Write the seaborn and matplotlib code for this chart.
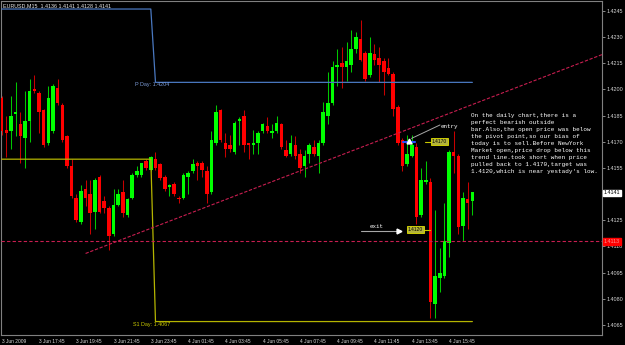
import numpy as np
import pandas as pd
import matplotlib
matplotlib.use("Agg")
import matplotlib.pyplot as plt
import seaborn as sns

# ---------------- data ----------------
opens = [1.4195, 1.4177, 1.4176, 1.4186, 1.4180, 1.4172, 1.4182, 1.4200, 1.4198, 1.4188,
         1.4169, 1.4176, 1.4201, 1.4191, 1.4173, 1.4156, 1.4138, 1.4124, 1.4143, 1.4140,
         1.4130, 1.4150, 1.4136, 1.4132, 1.4117, 1.4134, 1.4141, 1.4128, 1.4138, 1.4151,
         1.4151, 1.4159, 1.4154, 1.4160, 1.4157, 1.4150, 1.4144, 1.4146, 1.4138, 1.4138,
         1.4150, 1.4153, 1.4158, 1.4158, 1.4153, 1.4141, 1.4169, 1.4188, 1.4169, 1.4168,
         1.4164, 1.4182, 1.4185, 1.4169, 1.4168, 1.4169, 1.4176, 1.4179, 1.4175, 1.4176,
         1.4180, 1.4165, 1.4163, 1.4168, 1.4163, 1.4156, 1.4163, 1.4167, 1.4162, 1.4169,
         1.4185, 1.4192, 1.4213, 1.4215, 1.4213, 1.4214, 1.4223, 1.4229, 1.4221, 1.4208,
         1.4220, 1.4218, 1.4216, 1.4212, 1.4209, 1.4190, 1.4171, 1.4157, 1.4162, 1.4167,
         1.4128, 1.4147, 1.4147, 1.4077, 1.4092, 1.4093, 1.4112, 1.4164, 1.4162, 1.4122,
         1.4137, 1.4136]
highs = [1.4196, 1.4185, 1.4196, 1.4204, 1.4187, 1.4199, 1.4206, 1.4208, 1.4199, 1.4189,
         1.4202, 1.4203, 1.4206, 1.4192, 1.4174, 1.4160, 1.4140, 1.4145, 1.4148, 1.4148,
         1.4149, 1.4151, 1.4139, 1.4133, 1.4143, 1.4143, 1.4148, 1.4138, 1.4152, 1.4156,
         1.4158, 1.4160, 1.4162, 1.4164, 1.4158, 1.4151, 1.4146, 1.4147, 1.4139, 1.4152,
         1.4153, 1.4160, 1.4159, 1.4159, 1.4156, 1.4176, 1.4191, 1.4189, 1.4175, 1.4174,
         1.4182, 1.4184, 1.4188, 1.4169, 1.4177, 1.4176, 1.4181, 1.4184, 1.4180, 1.4185,
         1.4181, 1.4171, 1.4174, 1.4173, 1.4166, 1.4165, 1.4169, 1.4171, 1.4171, 1.4193,
         1.4210, 1.4216, 1.4223, 1.4224, 1.4227, 1.4234, 1.4233, 1.4240, 1.4222, 1.4230,
         1.4226, 1.4224, 1.4218, 1.4218, 1.4210, 1.4191, 1.4172, 1.4174, 1.4174, 1.4169,
         1.4155, 1.4159, 1.4149, 1.4131, 1.4109, 1.4135, 1.4165, 1.4176, 1.4163, 1.4141,
         1.4147, 1.4141]
lows = [1.4174, 1.4161, 1.4166, 1.4173, 1.4158, 1.4155, 1.4170, 1.4198, 1.4175, 1.4167,
        1.4168, 1.4175, 1.4191, 1.4170, 1.4155, 1.4138, 1.4124, 1.4123, 1.4133, 1.4117,
        1.4120, 1.4129, 1.4129, 1.4108, 1.4116, 1.4133, 1.4127, 1.4127, 1.4137, 1.4150,
        1.4150, 1.4154, 1.4153, 1.4154, 1.4148, 1.4142, 1.4139, 1.4139, 1.4135, 1.4137,
        1.4140, 1.4152, 1.4148, 1.4150, 1.4135, 1.4140, 1.4168, 1.4170, 1.4161, 1.4164,
        1.4163, 1.4168, 1.4164, 1.4160, 1.4163, 1.4163, 1.4175, 1.4175, 1.4172, 1.4175,
        1.4166, 1.4161, 1.4162, 1.4160, 1.4152, 1.4150, 1.4158, 1.4162, 1.4152, 1.4168,
        1.4180, 1.4191, 1.4202, 1.4201, 1.4205, 1.4210, 1.4221, 1.4216, 1.4205, 1.4207,
        1.4214, 1.4204, 1.4197, 1.4208, 1.4185, 1.4168, 1.4153, 1.4156, 1.4161, 1.4123,
        1.4127, 1.4146, 1.4069, 1.4069, 1.4084, 1.4092, 1.4104, 1.4152, 1.4117, 1.4113,
        1.4120, 1.4128]
closes = [1.4176, 1.4175, 1.4185, 1.4187, 1.4173, 1.4182, 1.4199, 1.4199, 1.4187, 1.4168,
          1.4195, 1.4202, 1.4192, 1.4171, 1.4156, 1.4139, 1.4125, 1.4142, 1.4138, 1.4129,
          1.4148, 1.4130, 1.4132, 1.4116, 1.4134, 1.4140, 1.4129, 1.4137, 1.4151, 1.4153,
          1.4158, 1.4155, 1.4161, 1.4155, 1.4149, 1.4143, 1.4145, 1.4140, 1.4137, 1.4151,
          1.4152, 1.4157, 1.4156, 1.4154, 1.4140, 1.4171, 1.4187, 1.4171, 1.4166, 1.4166,
          1.4181, 1.4183, 1.4168, 1.4168, 1.4169, 1.4175, 1.4180, 1.4176, 1.4176, 1.4181,
          1.4167, 1.4162, 1.4169, 1.4162, 1.4155, 1.4162, 1.4168, 1.4163, 1.4169, 1.4187,
          1.4192, 1.4213, 1.4214, 1.4213, 1.4216, 1.4223, 1.4230, 1.4217, 1.4206, 1.4221,
          1.4217, 1.4214, 1.4210, 1.4209, 1.4189, 1.4169, 1.4156, 1.4163, 1.4168, 1.4127,
          1.4148, 1.4148, 1.4078, 1.4093, 1.4095, 1.4113, 1.4164, 1.4162, 1.4121, 1.4138,
          1.4135, 1.4141]

time_tick_bars = [0, 8, 16, 24, 32, 40, 48, 56, 64, 72, 80, 88, 96]
time_tick_labels = ["3 Jun 2009", "3 Jun 17:45", "3 Jun 19:45", "3 Jun 21:45", "3 Jun 23:45",
                    "4 Jun 01:45", "4 Jun 03:45", "4 Jun 05:45", "4 Jun 07:45", "4 Jun 09:45",
                    "4 Jun 11:45", "4 Jun 13:45", "4 Jun 15:45"]
price_ticks = [1.4245, 1.4230, 1.4215, 1.4200, 1.4185, 1.4170, 1.4155,
               1.4125, 1.4110, 1.4095, 1.4080, 1.4065]

pivot_levels = [1.4246, 1.4204]      # previous day, current day
s1_levels = [1.4160, 1.4067]
day_start_bar = 33
trend_bars = [18, 90]
trend_prices = [1.4106, 1.4180]
target_price = 1.4113
bid_price = 1.4141
entry_price = 1.4170
exit_price = 1.4120
title = "EURUSD,M15  1.4136 1.4141 1.4128 1.4141"
note_lines = ["On the daily chart,there is a",
              "perfect bearish outside",
              "bar.Also,the open price was below",
              "the pivot point,so our bias of",
              "today is to sell.Before NewYork",
              "Market open,price drop below this",
              "trend line.took short when price",
              "pulled back to 1.4170,target was",
              "1.4120,which is near yestady's low."]

# ---------------- style ----------------
sns.set_theme(style="dark", rc={"axes.facecolor": "black", "figure.facecolor": "black",
                                "axes.edgecolor": "#808080", "axes.grid": False})
plt.rcParams['font.family'] = ['Liberation Sans', 'DejaVu Sans']

W, H = 625, 345
fig = plt.figure(figsize=(W / 100, H / 100), dpi=100)
ax = fig.add_axes([1 / W, (H - 335) / H, 601 / W, 334 / H])
ax.set_facecolor("black")
XMIN, XMAX = -0.15, 128.82
ax.set_xlim(XMIN, XMAX)
ax.set_ylim(1.40593, 1.42506)

def fx(px):
    return px / W

def fy(py):
    return 1 - py / H

def bar_of(px):
    return XMIN + (px - 1) / 601 * (XMAX - XMIN)

df = pd.DataFrame({"bar": np.arange(len(opens)), "open": opens, "high": highs,
                   "low": lows, "close": closes})
up = df["close"] >= df["open"]
colors = np.where(up, "#00FF00", "#FF0000")
wick_colors = np.where(up, "#00C800", "#C80000")

ax.vlines(df["bar"], df["low"], df["high"], colors=wick_colors, linewidth=0.75, zorder=2)
body_lo = np.minimum(df["open"], df["close"])
body_h = np.maximum((df["close"] - df["open"]).abs(), 0.00007)
ax.bar(df["bar"], body_h, bottom=body_lo, width=0.76, color=colors, linewidth=0, zorder=3)

# pivot / S1 step lines
n = len(opens)
bars = np.arange(n)
piv = np.where(bars < day_start_bar, pivot_levels[0], pivot_levels[1])
s1 = np.where(bars < day_start_bar, s1_levels[0], s1_levels[1])
sns.lineplot(x=bars, y=piv, ax=ax, color="#4A78C0", linewidth=0.9, zorder=4, legend=False)
sns.lineplot(x=bars, y=s1, ax=ax, color="#B4B400", linewidth=0.9, zorder=4, legend=False)

# trend line ray
slope = (trend_prices[1] - trend_prices[0]) / (trend_bars[1] - trend_bars[0])
tx = [trend_bars[0], XMAX]
ty = [trend_prices[0], trend_prices[0] + slope * (XMAX - trend_bars[0])]
sns.lineplot(x=tx, y=ty, ax=ax, color="#C81E50", linewidth=0.8, zorder=4, legend=False,
             linestyle=(0, (3, 1.5)))
ax.axhline(target_price, color="#C81E50", linewidth=0.8, linestyle=(0, (3, 2)), zorder=4)

# axes / ticks
for s in ax.spines.values():
    s.set_color("#808080")
    s.set_linewidth(0.8)
ax.yaxis.tick_right()
ax.set_yticks(price_ticks)
ax.set_yticklabels([f"{p:.4f}" for p in price_ticks])
ax.tick_params(axis="y", direction="out", length=2, width=0.6, color="#A0A0A0",
               labelsize=3.9, labelcolor="#D8D8D8", pad=1.5)
ax.set_xticks(time_tick_bars)
ax.set_xticklabels(time_tick_labels, ha="left")
ax.tick_params(axis="x", direction="out", length=2, width=0.6, color="#A0A0A0",
               labelsize=3.5, labelcolor="#D8D8D8", pad=1.0)
ax.set_xlabel("")
ax.set_ylabel("")

# title
fig.text(fx(3), fy(5.7), title, ha="left", va="center", fontsize=3.9, color="#E8E8E8")

# level labels
ax.text(bar_of(135), pivot_levels[1], f"P Day: {pivot_levels[1]:.4f}", ha="left", va="top",
        fontsize=3.9, color="#7C9CD8", zorder=6)
ax.text(bar_of(133), s1_levels[1] - 0.00003, f"S1 Day: {s1_levels[1]:.4f}", ha="left", va="top",
        fontsize=3.9, color="#C8C800", zorder=6)

# right axis price boxes
fig.text(fx(604), fy(193), f"{bid_price:.4f}", ha="left", va="center", fontsize=3.9,
         color="black", bbox=dict(boxstyle="square,pad=0.15", fc="white", ec="white"))
fig.text(fx(604), fy(241.5), f"{target_price:.4f}", ha="left", va="center", fontsize=3.9,
         color="#FF9090", bbox=dict(boxstyle="square,pad=0.15", fc="#FF0000", ec="#FF0000"))

# entry marker & labels
mono = ['Liberation Mono', 'DejaVu Sans Mono']
ax.plot([bar_of(403), bar_of(415)], [entry_price, entry_price], color="#2850FF", lw=1.5, zorder=7)
ax.plot([bar_of(408.5)], [entry_price + 0.00005], marker="^", color="white", markersize=3.5, zorder=8)
ax.plot([bar_of(411.5), bar_of(440)], [entry_price + 0.00019, entry_price + 0.00096],
        color="#A8A8A8", lw=0.7, zorder=7)
ax.text(bar_of(440.5), entry_price + 0.00088, "entry", family=mono, fontsize=4.2,
        color="white", ha="left", va="center", zorder=8)

ax.plot([bar_of(361), bar_of(397)], [exit_price - 0.00012, exit_price - 0.00012],
        color="#A8A8A8", lw=0.8, zorder=7)
ax.plot([bar_of(399)], [exit_price - 0.00012], marker=">", color="white", markersize=3.5, zorder=8)
ax.text(bar_of(376.7), exit_price + 0.00014, "exit", family=mono, fontsize=4.2,
        color="white", ha="center", va="center", zorder=8)

# price labels on chart
ax.plot([bar_of(425), bar_of(431)], [entry_price, entry_price], color="#C8C800", lw=0.8, zorder=7)
ax.text(bar_of(439.5), entry_price, f"{entry_price:.4f}", fontsize=3.5, color="black",
        ha="center", va="center", zorder=9,
        bbox=dict(boxstyle="square,pad=0.2", fc="#B4B43C", ec="#E0E000", lw=0.6))
ax.plot([bar_of(424), bar_of(430)], [exit_price - 0.00006, exit_price - 0.00006],
        color="#C8C800", lw=0.8, zorder=7)
ax.text(bar_of(415.2), exit_price - 0.00005, f"{exit_price:.4f}", fontsize=3.5, color="black",
        ha="center", va="center", zorder=9,
        bbox=dict(boxstyle="square,pad=0.2", fc="#B4B43C", ec="#E0E000", lw=0.6))

# note text
for k, line in enumerate(note_lines):
    fig.text(fx(471), fy(116 + 6.96 * k), line, family=mono, fontsize=4.3,
             color="white", ha="left", va="center")

fig.savefig("out.png", dpi=100, facecolor="black")
